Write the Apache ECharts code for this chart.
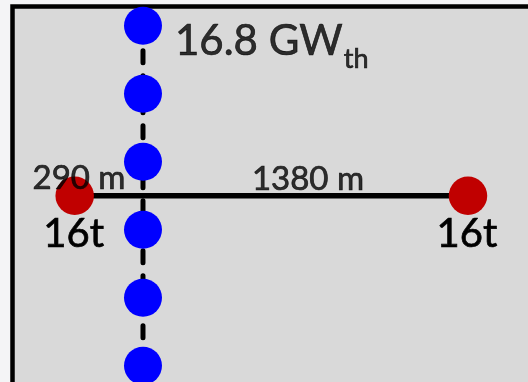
<!DOCTYPE html>
<html>
<head>
<meta charset="utf-8">
<script src="https://cdn.jsdelivr.net/npm/echarts@6/dist/echarts.min.js"></script>
<style>
  html, body { margin: 0; padding: 0; background: #f4f4f6; }
  #chart { width: 528px; height: 382px; }
</style>
</head>
<body>
<div id="chart"></div>
<script>
// ---- data ----
const segmentLengths = [290, 1380];          // pipe lengths in m (left branch, right branch)
const segmentLabels = ['290 m', '1380 m'];
const storageLabels = ['16t', '16t'];
const heatNodeY = [2.5, 1.5, 0.5, -0.5, -1.5, -2.5]; // heat nodes along the dashed line
const powerValue = '16.8 GW';
const powerSub = 'th';

// ---- derived points ----
const leftX = -segmentLengths[0];
const rightX = segmentLengths[1];
const storagePts = [[leftX, 0, storageLabels[0]], [rightX, 0, storageLabels[1]]];
const heatPts = heatNodeY.map(y => [0, y]);

const FONT = 'Lato';
const TXT = { color: '#000', fontFamily: FONT, textBorderColor: '#000', textBorderWidth: 0.7 };
const chart = echarts.init(document.getElementById('chart'), null, { renderer: 'canvas' });

chart.setOption({
  animation: false,
  backgroundColor: '#f4f4f6',
  grid: {
    show: true, left: 12.5, top: 6.5, right: -20, bottom: -20,
    outerBoundsMode: 'none', containLabel: false,
    backgroundColor: '#d9d9d9', borderColor: '#000', borderWidth: 4.5
  },
  xAxis: { type: 'value', min: -554.1, max: 1719.8, show: false },
  yAxis: { type: 'value', min: -3.033, max: 2.783, show: false },
  series: [
    {
      type: 'line', z: 1, symbol: 'none', silent: true, clip: false,
      data: [[leftX, 0], [rightX, 0]],
      lineStyle: { color: '#000', width: 5.5 }
    },
    {
      type: 'line', z: 1, symbol: 'none', silent: true, clip: false,
      data: [[0, Math.max(...heatNodeY)], [0, Math.min(...heatNodeY) - 0.6]],
      lineStyle: { color: '#000', width: 5, type: [12, 13], cap: 'round' }
    },
    {
      type: 'scatter', z: 2, symbol: 'circle', symbolSize: 38.5, clip: false,
      itemStyle: { color: '#c00000', opacity: 1 },
      data: storagePts,
      label: Object.assign({
        show: true, position: 'inside', offset: [-1, 38.5],
        formatter: p => p.value[2], fontSize: 40
      }, TXT)
    },
    {
      type: 'scatter', z: 2, symbol: 'circle', symbolSize: 38, clip: false,
      itemStyle: { color: '#0000ff', opacity: 1 },
      data: heatPts
    },
    {
      type: 'scatter', z: 3, symbolSize: 0, clip: false,
      itemStyle: { color: 'transparent' },
      data: [
        { value: [leftX, 0], label: { formatter: segmentLabels[0], offset: [4.3, -17.5] } },
        { value: [rightX / 2, 0], label: { formatter: segmentLabels[1], offset: [2.5, -16.5] } },
        {
          value: [0, Math.max(...heatNodeY)],
          label: {
            formatter: '{a|' + powerValue + '}{b|' + powerSub + '}',
            align: 'left', offset: [32, 15.75],
            rich: {
              a: Object.assign({ fontSize: 42, lineHeight: 42, verticalAlign: 'top' }, TXT),
              b: Object.assign({ fontSize: 27, lineHeight: 27, verticalAlign: 'top', padding: [25, 0, 0, 1] }, TXT)
            }
          }
        }
      ],
      label: Object.assign({ show: true, position: 'inside', fontSize: 33 }, TXT)
    }
  ]
});
</script>
</body>
</html>
